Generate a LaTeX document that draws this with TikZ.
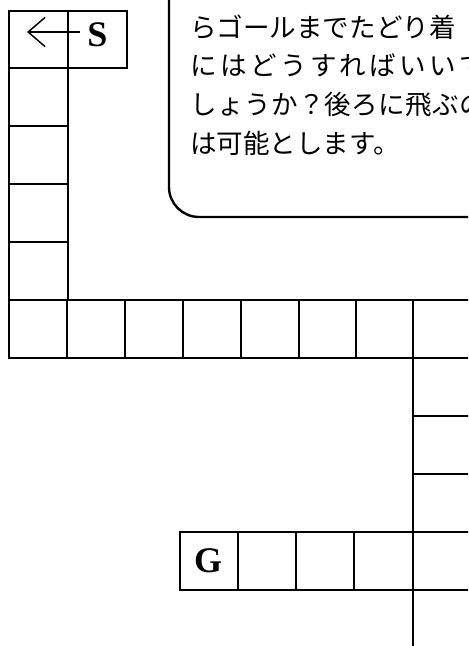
\documentclass[tikz,border=0pt]{standalone}
\usepackage{fontspec}
\setmainfont{Liberation Serif}
\newfontfamily\jpfont{Noto Sans CJK JP}
\usetikzlibrary{arrows.meta}
\begin{document}
\begin{tikzpicture}[x=0.75pt,y=-0.75pt,
  cell/.style={draw=black,line width=1.5pt},
  thick cell/.style={draw=black,line width=2.2pt},
  letter/.style={inner sep=0pt,font=\fontsize{27pt}{27pt}\selectfont\bfseries},
  jptext/.style={anchor=base west,inner sep=0pt,font=\jpfont\fontsize{19.9pt}{20pt}\selectfont},
  panel/.style={draw=black,line width=1.8pt,rounded corners=22.5pt}]
\useasboundingbox (0,0) rectangle (468,646);
\clip (0,0) rectangle (468,646);
% speech panel
\draw[panel] (169,-30) -- (169,217) -- (500,217);
\node[jptext] (l1) at (190,37) {らゴールまでたどり着};
\node[jptext] (l2) at (190,75) {\hbox to 222pt{に\hfill は\hfill ど\hfill う\hfill す\hfill れ\hfill ば\hfill い\hfill い\hfill で}};
\node[jptext] (l3) at (190,114) {\hbox to 222pt{し\hfill ょ\hfill う\hfill か\hfill ？\hfill 後\hfill ろ\hfill に\hfill 飛\hfill ぶ\hfill の}};
\node[jptext] (l4) at (190,153) {は可能とします。};
% left column
\foreach \ya/\yb in {11/68,68/126,126/184,184/242,242/300}
  \draw[cell] (9,\ya) rectangle (68,\yb);
% start cell
\draw[cell] (68,11) rectangle (127,68);
\draw[line width=2.2pt] (68,11) -- (68,68);
\node[letter] (S) at (97.5,35) {S};
\coordinate (arrowstart) at (80,32);
\coordinate (arrowend) at (27,32);
\draw[line width=1.1pt,-{Straight Barb[length=12.75pt,width=22pt,line width=1.1pt]}] (arrowstart) -- (arrowend);
% horizontal row
\foreach \xa/\xb in {9/67,67/125,125/183,183/241,241/299,299/356,356/413}
  \draw[cell] (\xa,300) rectangle (\xb,358);
\draw[cell] (413,300) -- (480,300);
\draw[thick cell] (413,358) -- (480,358);
% right column
\foreach \yy in {416,474,532,590}
  \draw[thick cell] (413,\yy) -- (480,\yy);
% goal row
\foreach \xa/\xb in {180/238,238/296,296/354,354/413}
  \draw[cell] (\xa,532) rectangle (\xb,590);
\draw[thick cell] (413,300) -- (413,660);
\node[letter] (G) at (208,561) {G};
\end{tikzpicture}
\end{document}
